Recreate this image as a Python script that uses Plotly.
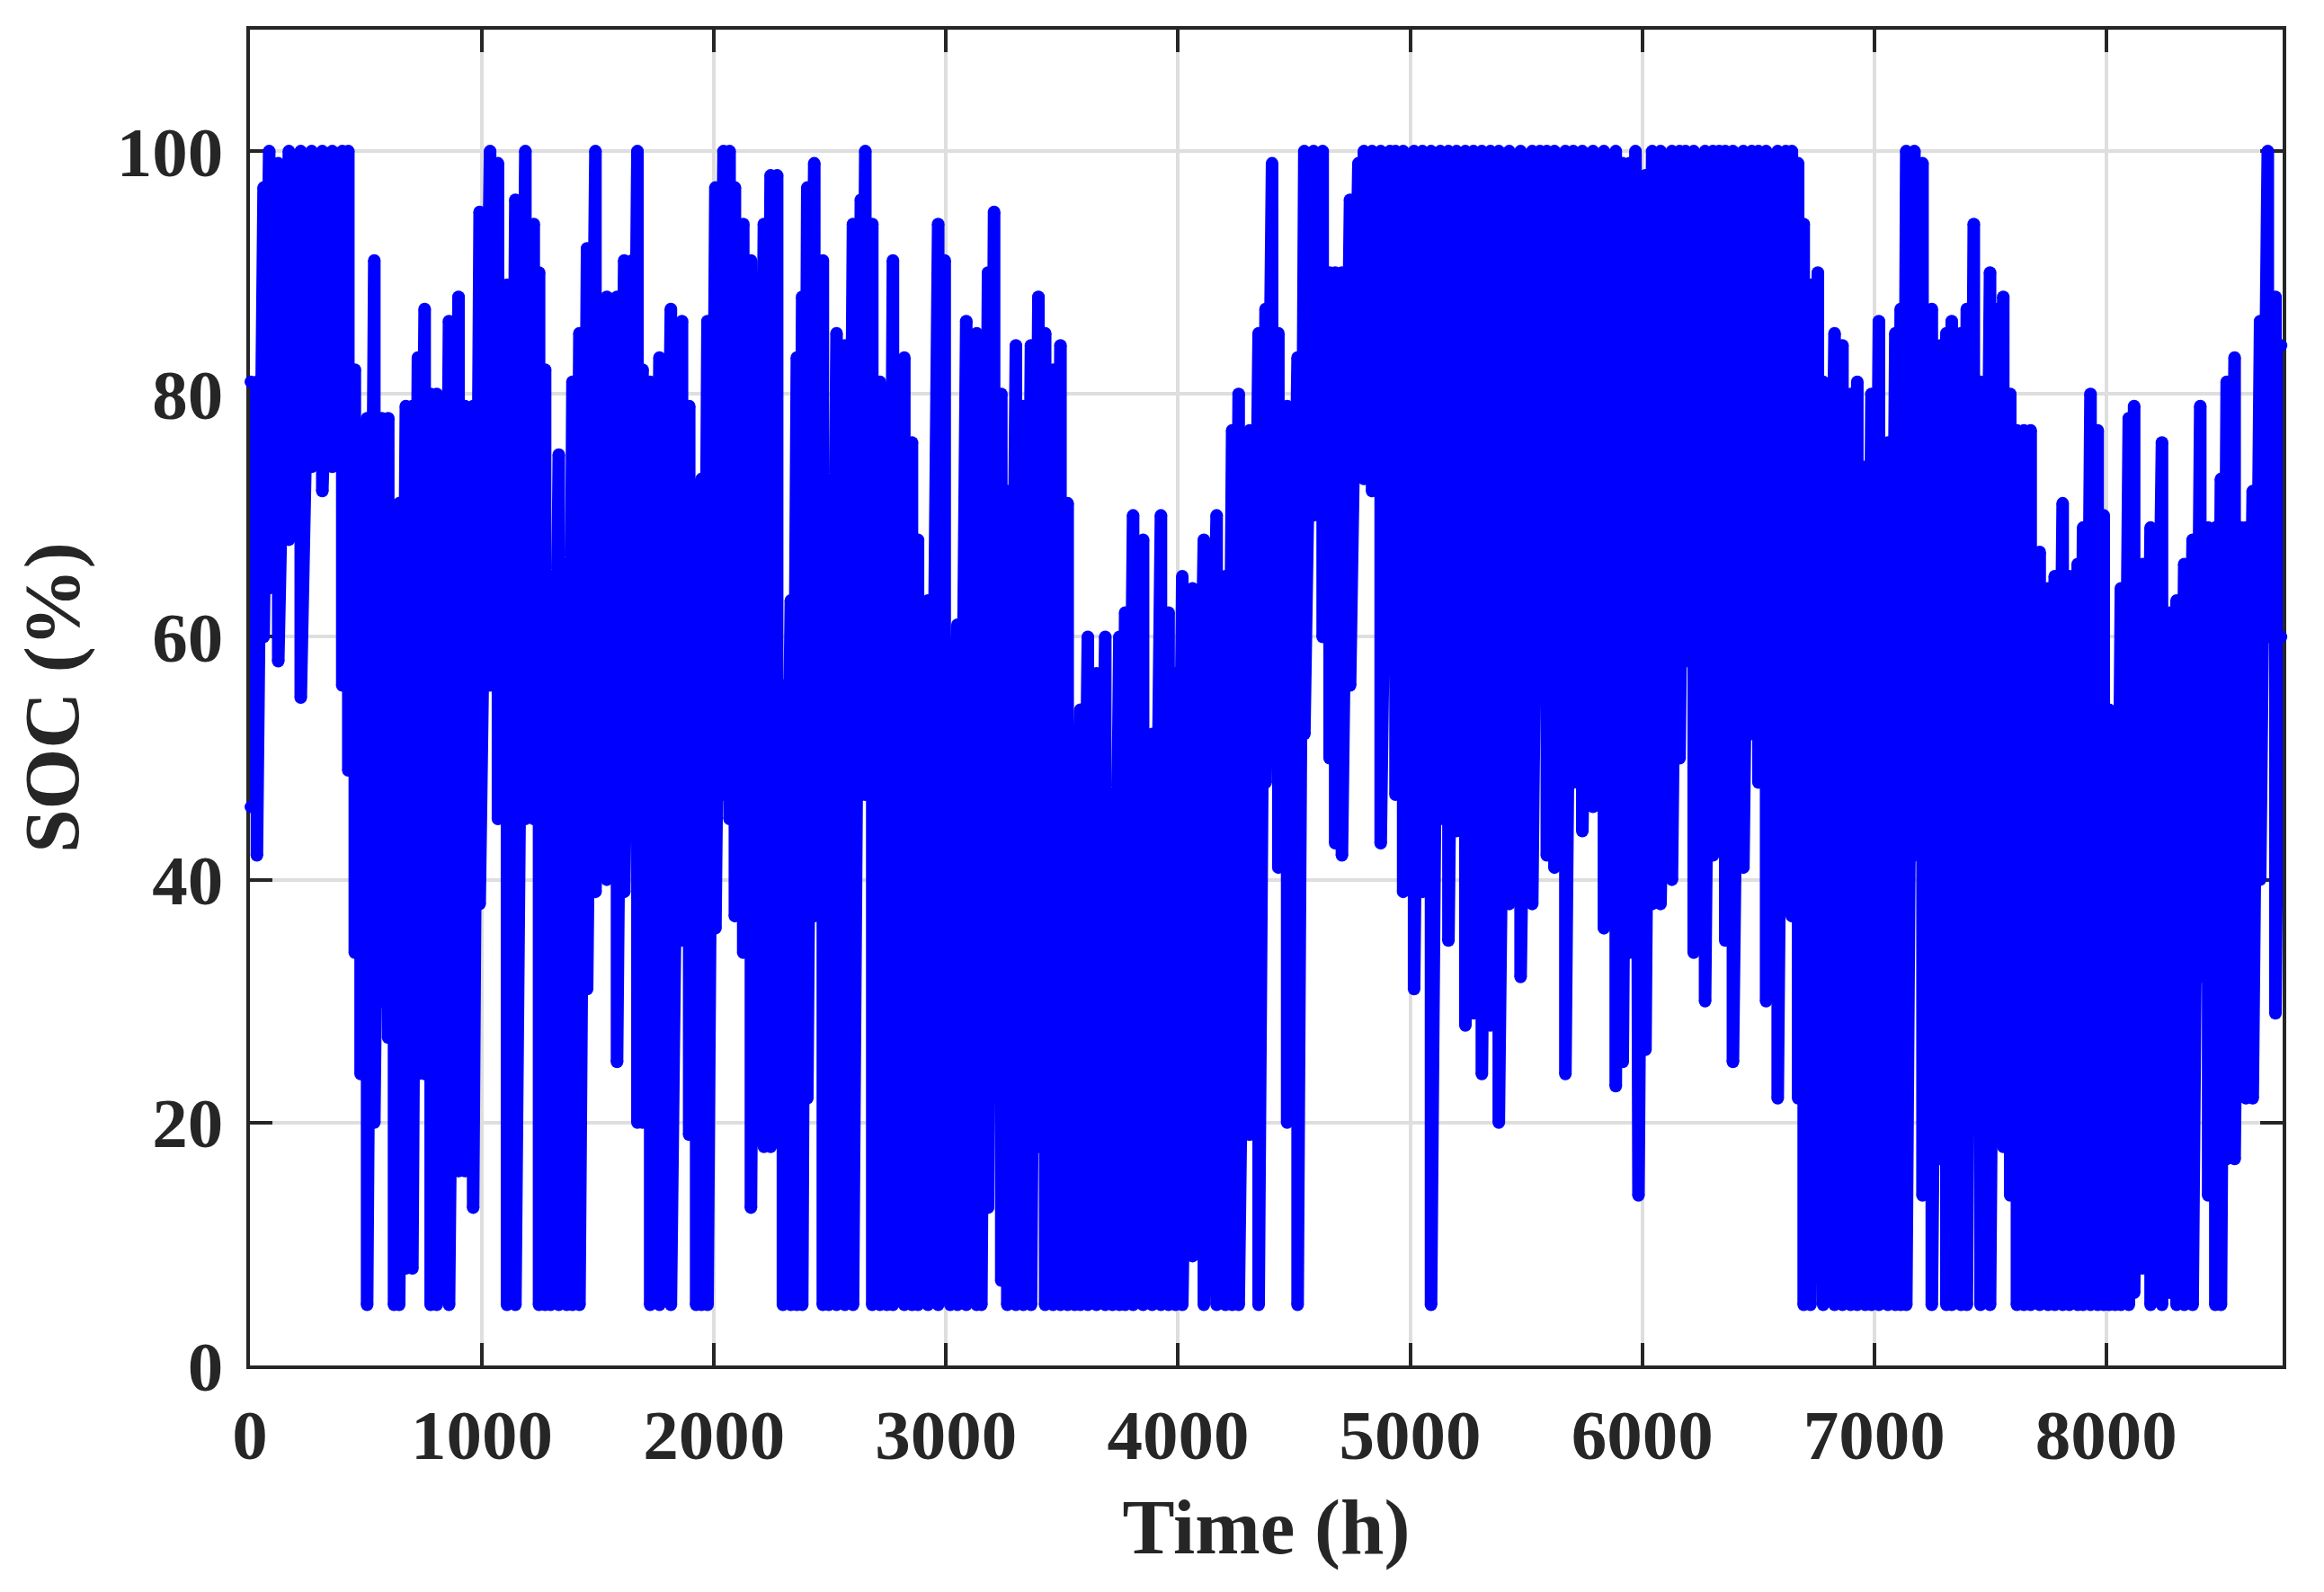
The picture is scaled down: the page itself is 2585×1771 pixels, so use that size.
import plotly.graph_objects as go

time_h = [
    4, 30, 59, 83, 122, 168, 219, 266, 312, 355,
    398, 424, 452, 477, 505, 536, 568, 596, 621, 643,
    672, 700, 724, 753, 779, 805, 828, 858, 899, 927,
    962, 990, 1035, 1069, 1108, 1144, 1187, 1223, 1246, 1272,
    1296, 1331, 1365, 1390, 1420, 1453, 1489, 1538, 1582, 1613,
    1647, 1670, 1692, 1725, 1765, 1814, 1862, 1893, 1923, 1946,
    1972, 2006, 2041, 2067, 2090, 2126, 2159, 2185, 2215, 2244,
    2272, 2297, 2331, 2357, 2380, 2402, 2432, 2469, 2495, 2528,
    2564, 2599, 2633, 2652, 2682, 2715, 2745, 2771, 2820, 2853,
    2879, 2922, 2966, 2994, 3018, 3049, 3087, 3132, 3152, 3181,
    3207, 3238, 3264, 3301, 3333, 3366, 3398, 3427, 3461, 3493,
    3524, 3554, 3579, 3611, 3648, 3686, 3717, 3747, 3772, 3806,
    3849, 3888, 3926, 3959, 3989, 4018, 4062, 4111, 4166, 4204,
    4233, 4261, 4308, 4347, 4377, 4405, 4432, 4470, 4515, 4544,
    4584, 4623, 4653, 4677, 4706, 4741, 4777, 4801, 4836, 4873,
    4913, 4937, 4970, 5017, 5053, 5090, 5130, 5165, 5200, 5238,
    5273, 5309, 5346, 5382, 5427, 5476, 5526, 5559, 5589, 5622,
    5669, 5703, 5742, 5788, 5835, 5886, 5916, 5945, 5971, 5984,
    6014, 6043, 6079, 6128, 6161, 6187, 6222, 6271, 6305, 6332,
    6358, 6391, 6436, 6472, 6501, 6534, 6584, 6619, 6645, 6672,
    6696, 6725, 6757, 6780, 6829, 6863, 6898, 6927, 6961, 6988,
    7020, 7059, 7091, 7114, 7138, 7173, 7208, 7248, 7285, 7311,
    7334, 7374, 7399, 7429, 7458, 7499, 7531, 7556, 7586, 7615,
    7645, 7674, 7713, 7749, 7778, 7812, 7841, 7877, 7900, 7932,
    7963, 7989, 8012, 8038, 8063, 8097, 8120, 8156, 8191, 8240,
    8274, 8303, 8336, 8372, 8405, 8439, 8470, 8494, 8519, 8553,
    8580, 8602, 8631, 8663, 8696, 8729, 8753,
]

soc_high = [
    81, 81, 97, 100, 99, 100, 100, 100, 100, 100,
    100, 100, 82, 74, 78, 91, 78, 78, 69, 71,
    79, 79, 83, 87, 80, 80, 71, 86, 88, 79,
    79, 95, 100, 99, 89, 96, 100, 94, 90, 82,
    61, 75, 55, 81, 85, 92, 100, 88, 88, 91,
    91, 100, 82, 81, 83, 87, 86, 79, 68, 73,
    86, 97, 100, 100, 97, 94, 91, 87, 94, 98,
    98, 56, 63, 83, 88, 97, 99, 91, 67, 85,
    84, 94, 96, 100, 94, 81, 79, 91, 83, 76,
    68, 63, 94, 91, 52, 61, 86, 85, 83, 90,
    95, 80, 72, 84, 79, 84, 88, 85, 82, 84,
    71, 50, 54, 60, 57, 60, 46, 60, 62, 70,
    68, 52, 70, 62, 57, 65, 64, 68, 70, 65,
    77, 80, 77, 85, 87, 99, 85, 79, 83, 100,
    100, 100, 90, 90, 90, 96, 99, 100, 100, 100,
    100, 100, 100, 100, 100, 100, 100, 100, 100, 100,
    100, 100, 100, 100, 100, 100, 100, 100, 100, 100,
    100, 100, 100, 100, 100, 100, 99, 99, 100, 98,
    98, 100, 100, 100, 100, 100, 100, 100, 100, 100,
    100, 100, 100, 100, 100, 100, 100, 100, 100, 99,
    94, 89, 90, 81, 85, 84, 80, 81, 74, 80,
    86, 76, 85, 87, 100, 100, 99, 87, 84, 85,
    86, 85, 87, 94, 81, 90, 87, 88, 80, 77,
    77, 77, 67, 64, 65, 71, 65, 66, 69, 80,
    77, 70, 54, 51, 64, 78, 79, 66, 69, 76,
    62, 63, 66, 68, 79, 69, 69, 73, 81, 83,
    69, 69, 72, 86, 100, 88, 84,
]

soc_low = [
    46, 42, 60, 64, 58, 68, 55, 74, 72, 74,
    56, 49, 34, 24, 5, 20, 30, 27, 5, 5,
    8, 8, 24, 24, 5, 5, 16, 5, 16, 16,
    13, 38, 56, 45, 5, 5, 45, 45, 5, 5,
    5, 5, 5, 5, 5, 31, 39, 40, 25, 39,
    52, 20, 20, 5, 5, 5, 35, 19, 5, 5,
    5, 36, 47, 45, 37, 34, 13, 20, 18, 18,
    41, 5, 5, 5, 5, 22, 37, 5, 5, 5,
    5, 5, 47, 47, 5, 5, 5, 5, 5, 5,
    5, 5, 5, 15, 5, 5, 5, 5, 5, 13,
    33, 7, 5, 5, 5, 5, 18, 5, 5, 5,
    5, 5, 5, 5, 5, 5, 5, 5, 5, 5,
    5, 5, 5, 5, 5, 5, 9, 5, 5, 5,
    5, 5, 19, 5, 48, 58, 41, 20, 5, 52,
    70, 60, 50, 43, 42, 56, 77, 73, 72, 43,
    58, 47, 39, 31, 39, 5, 45, 35, 44, 28,
    29, 24, 28, 20, 38, 32, 38, 65, 42, 41,
    24, 48, 44, 46, 36, 23, 25, 34, 34, 14,
    26, 38, 38, 40, 50, 58, 34, 30, 42, 46,
    35, 25, 41, 52, 48, 30, 22, 40, 37, 22,
    5, 5, 15, 5, 5, 5, 5, 5, 5, 5,
    5, 5, 5, 5, 5, 42, 14, 5, 17, 5,
    5, 5, 5, 21, 5, 5, 24, 18, 14, 5,
    5, 5, 5, 5, 5, 5, 5, 5, 5, 5,
    5, 5, 5, 5, 5, 5, 6, 8, 5, 5,
    6, 5, 5, 5, 32, 14, 5, 5, 17, 17,
    23, 22, 22, 40, 60, 29, 60,
]

x_ticks = [0, 1000, 2000, 3000, 4000, 5000, 6000, 7000, 8000]
y_ticks = [0, 20, 40, 60, 80, 100]

assert len(time_h) == len(soc_high) == len(soc_low)

xs, ys = [], []
for t, hi, lo in zip(time_h, soc_high, soc_low):
    xs += [t, t]
    ys += [hi, lo]

INK = "#262626"
GRID = "#dedede"
FONT = "Liberation Serif"

fig = go.Figure(
    go.Scatter(
        x=xs, y=ys, mode="lines+markers",
        line=dict(color="#0000ff", width=14, shape="linear"),
        marker=dict(color="#0000ff", size=14, line=dict(width=0)),
        cliponaxis=False,
        hoverinfo="skip", showlegend=False,
    )
)

axis_common = dict(
    showline=True, linecolor=INK, linewidth=4, mirror="ticks",
    ticks="inside", ticklen=25, tickwidth=4, tickcolor=INK,
    showgrid=True, gridcolor=GRID, gridwidth=4, zeroline=False,
    layer="below traces",
    tickfont=dict(family=FONT, size=79, color=INK, weight="bold"),
)

fig.update_xaxes(
    range=[0, 8760], tickvals=x_ticks, ticktext=[str(v) for v in x_ticks],
    title=dict(text="<b>Time (h)</b>", font=dict(family=FONT, size=87, color=INK), standoff=29),
    ticklabelstandoff=5,
    **axis_common,
)
fig.update_yaxes(
    range=[0, 110], tickvals=y_ticks, ticktext=[str(v) for v in y_ticks],
    title=dict(text="<b>SOC (%)</b>", font=dict(family=FONT, size=87, color=INK), standoff=14),
    ticklabelstandoff=10,
    **axis_common,
)

fig.update_layout(
    width=2585, height=1771,
    margin=dict(l=270, r=54, t=25, b=260, autoexpand=False),
    paper_bgcolor="white", plot_bgcolor="white",
    font=dict(family=FONT, color=INK),
)

fig.write_html("out.html", config={"displayModeBar": False})
